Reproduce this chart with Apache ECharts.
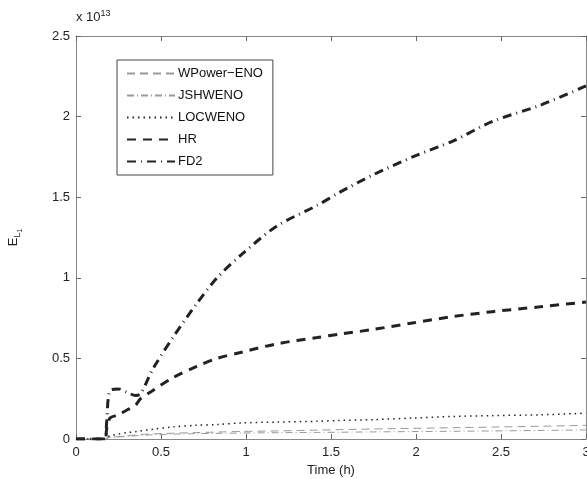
<!DOCTYPE html>
<html>
<head>
<meta charset="utf-8">
<script src="https://cdn.jsdelivr.net/npm/echarts@6/dist/echarts.min.js"></script>
<style>
  html, body { margin: 0; padding: 0; background: #fff; }
  #grafica { width: 587px; height: 479px; }
</style>
</head>
<body>
<div id="grafica"></div>
<script>
// values in units of 10^13
const time = [0, 0.1, 0.17, 0.18, 0.2, 0.25, 0.3, 0.35, 0.38, 0.45, 0.57, 0.71, 0.83, 0.98, 1.18, 1.42, 1.55, 1.75, 1.98, 2.22, 2.45, 2.73, 3];
const fd2 = [0, 0, 0, 0.1, 0.3, 0.31, 0.29, 0.27, 0.28, 0.43, 0.63, 0.84, 1.0, 1.15, 1.32, 1.45, 1.53, 1.64, 1.75, 1.85, 1.97, 2.07, 2.19];
const hr = [0, 0, 0, 0.06, 0.13, 0.15, 0.18, 0.21, 0.25, 0.3, 0.38, 0.45, 0.5, 0.54, 0.59, 0.63, 0.65, 0.68, 0.72, 0.76, 0.79, 0.82, 0.85];
const locweno = [0, 0, 0, 0.01, 0.02, 0.03, 0.04, 0.045, 0.05, 0.06, 0.075, 0.085, 0.09, 0.1, 0.105, 0.11, 0.115, 0.12, 0.13, 0.14, 0.145, 0.15, 0.16];
const wpower = [0, 0, 0, 0.005, 0.01, 0.015, 0.02, 0.025, 0.028, 0.032, 0.036, 0.04, 0.043, 0.047, 0.05, 0.055, 0.058, 0.062, 0.066, 0.07, 0.074, 0.079, 0.085];
const jshweno = [0, 0, 0, 0.005, 0.01, 0.013, 0.016, 0.02, 0.022, 0.026, 0.03, 0.033, 0.035, 0.037, 0.039, 0.041, 0.042, 0.044, 0.046, 0.048, 0.05, 0.053, 0.056];
const xTicks = ["0", "0.5", "1", "1.5", "2", "2.5", "3"];
const yTicks = ["0", "0.5", "1", "1.5", "2", "2.5"];

const font = "Liberation Sans";
const pairs = (ys) => time.map((t, i) => [t, ys[i]]);

const line = (name, ys, color, width, dash) => ({
  name: name,
  type: "line",
  data: pairs(ys),
  showSymbol: false,
  symbol: "none",
  smooth: 0.3,
  lineStyle: { color: color, width: width, type: dash },
  itemStyle: { color: color }
});

const frameAxis = { onZero: false, lineStyle: { color: "#888", width: 1 } };
const tickIn = { show: true, inside: true, length: 5, lineStyle: { color: "#666" } };

const chart = echarts.init(document.querySelector("#grafica"));
chart.setOption({
  animation: false,
  textStyle: { fontFamily: font },
  grid: { left: 76, right: 1, top: 36, bottom: 40, outerBoundsMode: "none", containLabel: false },
  graphic: [{
    type: "text",
    left: 76,
    top: 9,
    style: {
      text: "{a|x 10}{b|13}",
      rich: {
        a: { fontSize: 13, fontFamily: font, fill: "#222", padding: [8, 0, 0, 0] },
        b: { fontSize: 9, fontFamily: font, fill: "#222" }
      }
    }
  }],
  legend: {
    orient: "vertical",
    left: 117,
    top: 60,
    itemWidth: 48,
    itemHeight: 12,
    itemGap: 9,
    padding: [7, 10, 7, 9],
    borderColor: "#444",
    borderWidth: 1,
    itemStyle: { opacity: 0 },
    textStyle: { fontSize: 13, color: "#111", fontFamily: font, padding: [0, 0, 0, -2] },
    data: ["WPower−ENO", "JSHWENO", "LOCWENO", "HR", "FD2"]
  },
  xAxis: [{
    type: "value",
    min: 0, max: 3, interval: 0.5,
    name: "Time (h)",
    nameLocation: "middle",
    nameGap: 24,
    nameTextStyle: { fontSize: 13, color: "#222" },
    axisLine: frameAxis,
    axisTick: tickIn,
    splitLine: { show: false },
    axisLabel: { fontSize: 13, color: "#222", margin: 7, formatter: (v) => xTicks[Math.round(v * 2)] }
  }, {
    type: "value",
    position: "top",
    min: 0, max: 3, interval: 0.5,
    axisLine: frameAxis,
    axisTick: tickIn,
    axisLabel: { show: false },
    splitLine: { show: false }
  }],
  yAxis: [{
    type: "value",
    min: 0, max: 2.5, interval: 0.5,
    name: "{e|E}{l|L}{o|1}",
    nameLocation: "middle",
    nameGap: 52,
    nameRotate: 90,
    nameTextStyle: {
      rich: {
        e: { fontSize: 13, color: "#222", fontFamily: font },
        l: { fontSize: 9, color: "#222", fontFamily: font, padding: [8, 0, 0, 0] },
        o: { fontSize: 7, color: "#222", fontFamily: font, padding: [14, 0, 0, 0] }
      }
    },
    axisLine: frameAxis,
    axisTick: tickIn,
    splitLine: { show: false },
    axisLabel: { fontSize: 13, color: "#222", margin: 6, formatter: (v) => yTicks[Math.round(v * 2)] }
  }, {
    type: "value",
    position: "right",
    min: 0, max: 2.5, interval: 0.5,
    axisLine: frameAxis,
    axisTick: tickIn,
    axisLabel: { show: false },
    splitLine: { show: false }
  }],
  series: [
    line("WPower−ENO", wpower, "#999", 1, [8, 5]),
    line("JSHWENO", jshweno, "#999", 1, [7, 3, 1, 3]),
    line("LOCWENO", locweno, "#222", 1.5, [1.5, 4]),
    line("HR", hr, "#222", 3, [9, 7]),
    line("FD2", fd2, "#222", 3, [9, 5, 1, 5])
  ]
});
</script>
</body>
</html>
